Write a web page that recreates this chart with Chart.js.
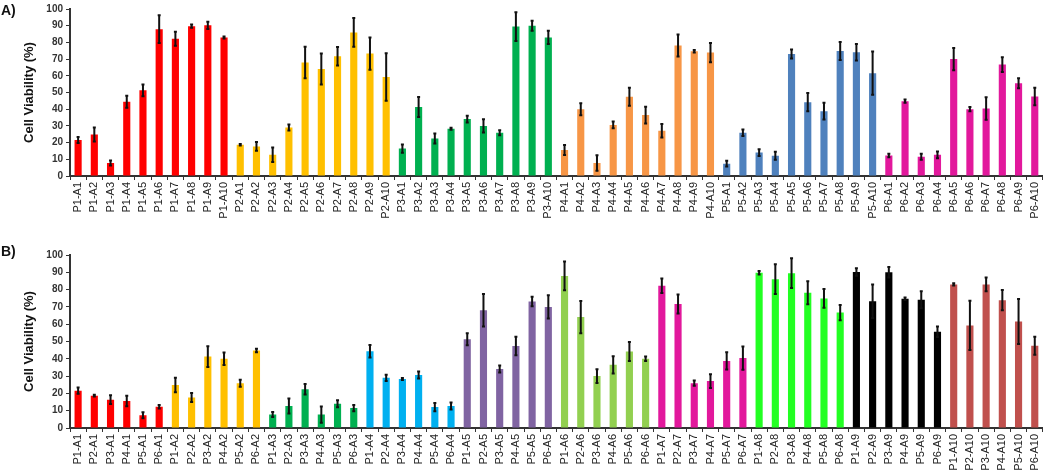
<!DOCTYPE html>
<html>
<head>
<meta charset="utf-8">
<script src="https://cdn.jsdelivr.net/npm/chart.js@4/dist/chart.umd.min.js"></script>
<style>
  body { margin: 0; background: #fff; font-family: "Liberation Sans", Arial, sans-serif; }
  .panel { position: absolute; left: 0; width: 1050px; }
  .tag { position: absolute; left: 1px; font-weight: bold; font-size: 14px; color: #111; }
</style>
</head>
<body>
<div class="panel" style="top:0;height:236px"><canvas id="chartA"></canvas></div>
<div class="panel" style="top:236px;height:240px"><canvas id="chartB"></canvas></div>
<div class="tag" style="top:2px">A)</div>
<div class="tag" style="top:243px">B)</div>
<script>
// polymers and amines
const polymers = ['P1', 'P2', 'P3', 'P4', 'P5', 'P6'];
const amines = ['A1', 'A2', 'A3', 'A4', 'A5', 'A6', 'A7', 'A8', 'A9', 'A10'];

// cell viability (%) per polymer, amines A1..A10, with error (sd)
const p1Mean = [21.6, 24.8, 7.8, 44.4, 51.3, 87.9, 82.2, 89.7, 90.2, 83.0];
const p1Err  = [1.8, 4.2, 1.5, 3.6, 3.5, 8.3, 4.2, 1.0, 2.2, 0.6];
const p2Mean = [18.7, 17.7, 12.7, 29.0, 68.0, 64.1, 71.7, 86.0, 73.3, 59.3];
const p2Err  = [0.5, 2.6, 4.3, 1.8, 9.4, 9.3, 5.5, 8.6, 9.7, 14.2];
const p3Mean = [16.4, 41.3, 22.4, 28.3, 34.1, 30.0, 25.9, 89.5, 90.0, 83.0];
const p3Err  = [2.5, 6.0, 3.0, 0.6, 2.0, 4.0, 1.5, 8.6, 3.0, 4.0];
const p4Mean = [15.6, 40.0, 7.8, 30.6, 47.4, 36.5, 27.1, 78.2, 74.7, 73.9];
const p4Err  = [3.0, 3.6, 4.7, 2.0, 5.4, 5.0, 4.0, 6.6, 0.7, 5.8];
const p5Mean = [7.4, 25.9, 14.0, 12.1, 73.1, 44.2, 38.8, 74.9, 74.1, 61.6];
const p5Err  = [1.7, 2.0, 2.0, 2.4, 2.7, 5.5, 5.0, 5.4, 4.9, 13.0];
const p6Mean = [12.3, 44.8, 11.5, 12.7, 70.0, 40.0, 40.4, 66.7, 55.6, 47.6];
const p6Err  = [1.0, 1.0, 1.8, 2.0, 6.7, 1.3, 6.7, 4.4, 3.0, 5.2];

const means = [p1Mean, p2Mean, p3Mean, p4Mean, p5Mean, p6Mean];
const errs = [p1Err, p2Err, p3Err, p4Err, p5Err, p6Err];

const yTicks = [0, 10, 20, 30, 40, 50, 60, 70, 80, 90, 100];

const polymerColors = ['#ff0000', '#ffc000', '#00b050', '#f79646', '#4f81bd', '#e2189c'];
const amineColors = ['#ff0000', '#ffc000', '#00b050', '#00b0f0', '#8064a2',
                     '#92d050', '#e2189c', '#22ff22', '#000000', '#c0504d'];

// panel A: grouped by polymer
const labelsA = [], valsA = [], errA = [], colA = [];
polymers.forEach((p, pi) => {
  amines.forEach((a, ai) => {
    labelsA.push(p + '-' + a);
    valsA.push(means[pi][ai]);
    errA.push(errs[pi][ai]);
    colA.push(polymerColors[pi]);
  });
});

// panel B: grouped by amine
const labelsB = [], valsB = [], errB = [], colB = [];
amines.forEach((a, ai) => {
  polymers.forEach((p, pi) => {
    labelsB.push(p + '-' + a);
    valsB.push(means[pi][ai]);
    errB.push(errs[pi][ai]);
    colB.push(amineColors[ai]);
  });
});

const errorBars = {
  id: 'errorBars',
  afterDatasetsDraw(chart) {
    const ctx = chart.ctx;
    const y = chart.scales.y;
    const meta = chart.getDatasetMeta(0);
    const e = chart.data.datasets[0].errors;
    const v = chart.data.datasets[0].data;
    ctx.save();
    ctx.strokeStyle = '#111';
    ctx.lineWidth = 2;
    meta.data.forEach((bar, i) => {
      const top = y.getPixelForValue(v[i] + e[i]);
      const bot = y.getPixelForValue(v[i] - e[i]);
      ctx.beginPath();
      ctx.moveTo(bar.x, top);
      ctx.lineTo(bar.x, bot);
      ctx.moveTo(bar.x - 1.5, top);
      ctx.lineTo(bar.x + 1.5, top);
      ctx.moveTo(bar.x - 1.5, bot);
      ctx.lineTo(bar.x + 1.5, bot);
      ctx.stroke();
    });
    ctx.restore();
  }
};

function makeChart(id, labels, vals, errsArr, cols, padTop, xHeight) {
  return new Chart(document.getElementById(id), {
    type: 'bar',
    data: {
      labels: labels,
      datasets: [{
        data: vals,
        errors: errsArr,
        backgroundColor: cols,
        barPercentage: 0.44,
        categoryPercentage: 1.0
      }]
    },
    options: {
      responsive: true,
      maintainAspectRatio: false,
      animation: false,
      layout: { padding: { top: padTop, right: 4, left: 0, bottom: 0 } },
      plugins: { legend: { display: false }, tooltip: { enabled: false } },
      scales: {
        x: {
          grid: { drawOnChartArea: false, color: '#333', tickLength: 4 },
          border: { color: '#333', width: 2 },
          ticks: {
            autoSkip: false, maxRotation: 90, minRotation: 90, padding: 2,
            color: '#222', font: { family: 'Liberation Sans', size: 11 }
          },
          afterFit(scale) { scale.height = xHeight; }
        },
        y: {
          min: 0, max: 100,
          afterBuildTicks(scale) { scale.ticks = yTicks.map(v => ({ value: v })); },
          grid: { drawOnChartArea: false, color: '#333', tickLength: 4 },
          border: { color: '#333', width: 2 },
          ticks: {
            padding: 3, color: '#333',
            font: { family: 'Liberation Sans', size: 10, weight: 'bold' }
          },
          title: {
            display: true, text: 'Cell Viability (%)', color: '#111',
            padding: { top: 22, bottom: 0 },
            font: { family: 'Liberation Sans', size: 13, weight: 'bold' }
          },
          afterFit(scale) { scale.width = 70; }
        }
      }
    },
    plugins: [errorBars]
  });
}

makeChart('chartA', labelsA, valsA, errA, colA, 5, 60);
makeChart('chartB', labelsB, valsB, errB, colB, 19, 48);
</script>
</body>
</html>
